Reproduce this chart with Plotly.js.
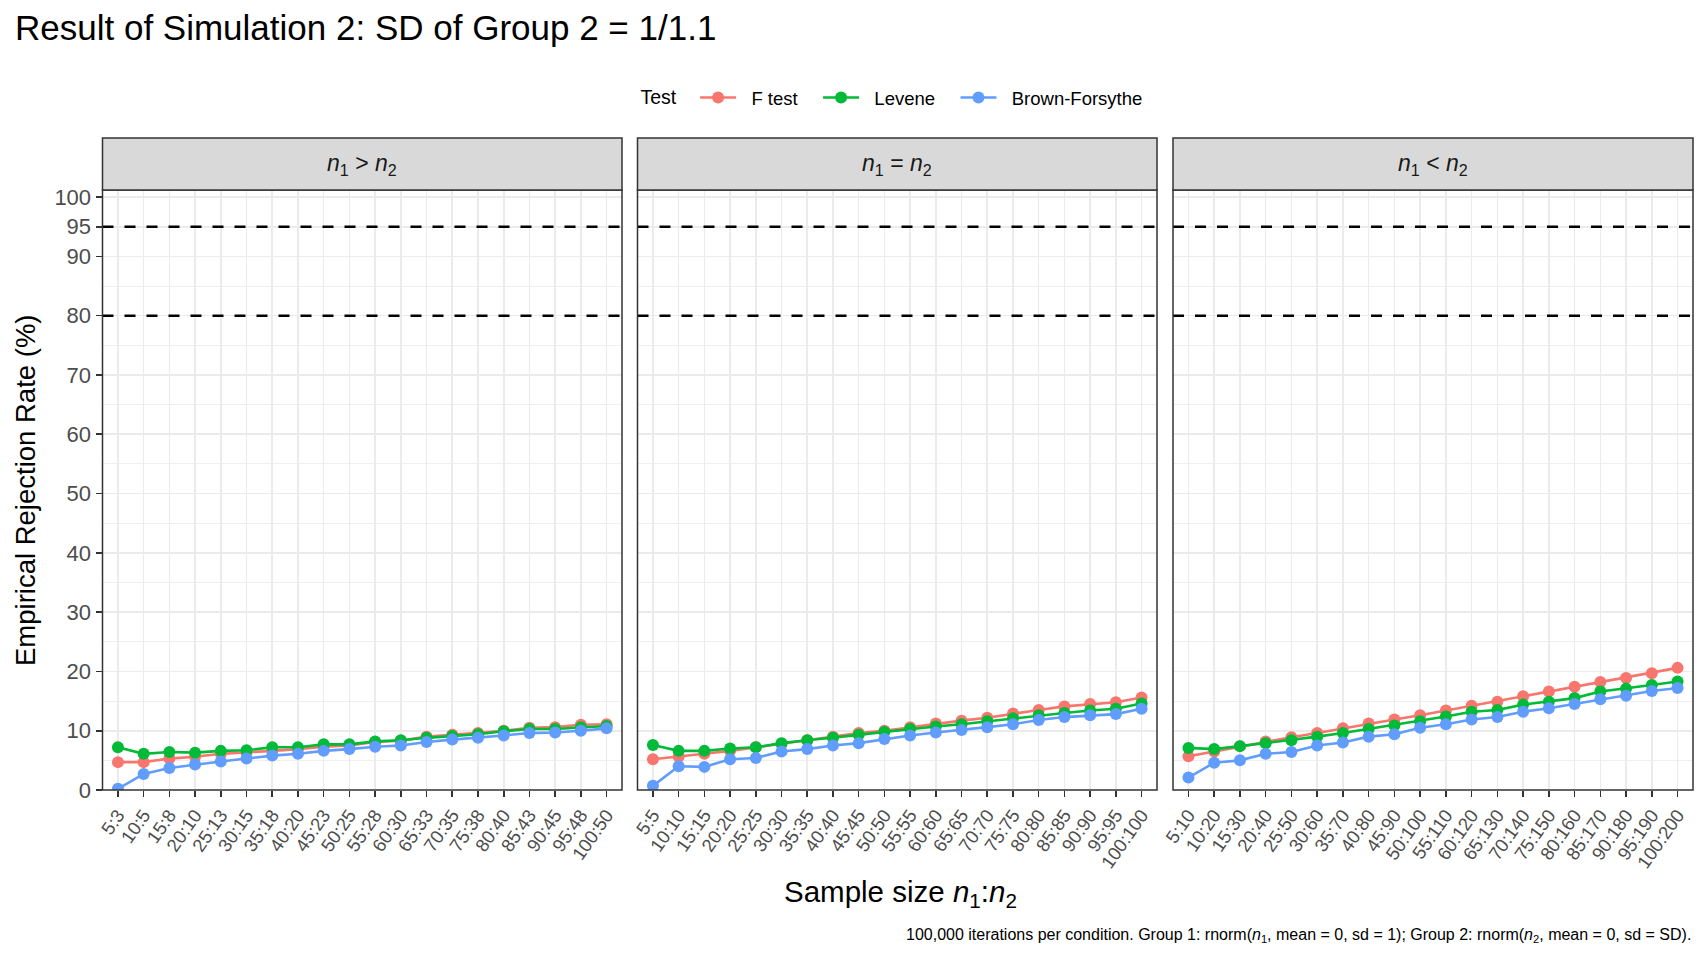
<!DOCTYPE html>
<html>
<head>
<meta charset="utf-8">
<script src="https://cdn.plot.ly/plotly-3.0.1.min.js"></script>
<style>html,body{margin:0;padding:0;background:#fff;}#chart{width:1708px;height:960px;}</style>
</head>
<body>
<div id="chart"></div>
<script>
// ---- Data ----
var panelLabels = ["<i>n</i><sub>1</sub> &gt; <i>n</i><sub>2</sub>", "<i>n</i><sub>1</sub> = <i>n</i><sub>2</sub>", "<i>n</i><sub>1</sub> &lt; <i>n</i><sub>2</sub>"];
var testNames = ["F test", "Levene", "Brown-Forsythe"];
var testColors = ["#F8766D", "#00BA38", "#619CFF"];

var catsGreater = ["5:3","10:5","15:8","20:10","25:13","30:15","35:18","40:20","45:23","50:25","55:28","60:30","65:33","70:35","75:38","80:40","85:43","90:45","95:48","100:50"];
var catsEqual = ["5:5","10:10","15:15","20:20","25:25","30:30","35:35","40:40","45:45","50:50","55:55","60:60","65:65","70:70","75:75","80:80","85:85","90:90","95:95","100:100"];
var catsLess = ["5:10","10:20","15:30","20:40","25:50","30:60","35:70","40:80","45:90","50:100","55:110","60:120","65:130","70:140","75:150","80:160","85:170","90:180","95:190","100:200"];

var greaterF  = [4.7, 4.7, 5.3, 5.6, 6.1, 6.3, 6.6, 6.9, 7.3, 7.5, 8.1, 8.3, 9.0, 9.3, 9.6, 10.0, 10.5, 10.6, 11.0, 11.1];
var greaterLev = [7.2, 6.1, 6.4, 6.3, 6.6, 6.7, 7.2, 7.2, 7.7, 7.7, 8.2, 8.4, 8.8, 9.1, 9.4, 9.9, 10.3, 10.3, 10.6, 10.8];
var greaterBF = [0.2, 2.7, 3.7, 4.3, 4.8, 5.3, 5.8, 6.1, 6.6, 6.9, 7.3, 7.5, 8.1, 8.5, 8.8, 9.2, 9.6, 9.7, 10.0, 10.4];

var equalF   = [5.2, 5.6, 6.1, 6.6, 7.2, 7.8, 8.4, 9.0, 9.6, 10.0, 10.6, 11.2, 11.7, 12.2, 12.9, 13.5, 14.1, 14.5, 14.8, 15.6];
var equalLev = [7.6, 6.6, 6.6, 7.0, 7.2, 7.9, 8.4, 8.8, 9.3, 9.8, 10.3, 10.7, 11.1, 11.6, 12.1, 12.6, 13.0, 13.4, 13.7, 14.6];
var equalBF  = [0.7, 4.0, 3.9, 5.2, 5.4, 6.5, 6.9, 7.5, 7.9, 8.6, 9.2, 9.7, 10.1, 10.6, 11.1, 11.8, 12.3, 12.6, 12.8, 13.7];

var lessF   = [5.7, 6.5, 7.4, 8.2, 8.9, 9.6, 10.4, 11.2, 11.9, 12.6, 13.4, 14.2, 14.9, 15.8, 16.6, 17.4, 18.2, 18.9, 19.7, 20.6];
var lessLev = [7.1, 6.9, 7.4, 7.9, 8.4, 9.0, 9.6, 10.3, 10.9, 11.6, 12.4, 13.2, 13.5, 14.4, 14.9, 15.5, 16.6, 17.1, 17.7, 18.3];
var lessBF  = [2.1, 4.6, 5.0, 6.1, 6.4, 7.5, 8.0, 9.0, 9.4, 10.5, 11.1, 11.9, 12.3, 13.2, 13.8, 14.5, 15.3, 15.9, 16.7, 17.2];

var yTickVals = [0, 10, 20, 30, 40, 50, 60, 70, 80, 90, 95, 100];
var yMinorVals = [5, 15, 25, 35, 45, 55, 65, 75, 85];
var refLines = [95, 80];

var captionText = "100,000 iterations per condition. Group 1: rnorm(<i>n</i><sub>1</sub>, mean = 0, sd = 1); Group 2: rnorm(<i>n</i><sub>2</sub>, mean = 0, sd = SD).";

// ---- Build ----
var FONT = "Liberation Sans, Arial, Helvetica, sans-serif";
var NB = "\u00A0";
var panels = [
  {cats: catsGreater, series: [greaterF, greaterLev, greaterBF]},
  {cats: catsEqual, series: [equalF, equalLev, equalBF]},
  {cats: catsLess, series: [lessF, lessLev, lessBF]}
];
var W = 1708, H = 960;
var xDomains = [[102.5/W, 622/W], [637.5/W, 1157/W], [1173/W, 1693/W]];
var yDom = [(H-790)/H, (H-190)/H];
var stripTop = (H-138)/H;

var traces = [];
panels.forEach(function(p, pi){
  var xa = pi === 0 ? "x" : "x" + (pi+1);
  p.series.forEach(function(vals, si){
    traces.push({
      type: "scatter", mode: "lines+markers",
      x: p.cats, y: vals, xaxis: xa, yaxis: "y",
      name: NB + NB + testNames[si] + NB + NB + NB, legendgroup: testNames[si], showlegend: pi === 0,
      line: {color: testColors[si], width: 2.6},
      marker: {color: testColors[si], size: 12},
      hoverinfo: "x+y"
    });
  });
});

var layout = {
  width: W, height: H,
  margin: {l: 0, r: 0, t: 0, b: 0},
  paper_bgcolor: "#ffffff", plot_bgcolor: "#ffffff",
  font: {family: FONT, color: "#000000"},
  showlegend: true,
  title: {text: "Result of Simulation 2: SD of Group 2 = 1/1.1", x: 15/W, xanchor: "left", xref: "paper",
          y: 1 - 28/H, yanchor: "middle", yref: "paper", font: {size: 35, color: "#000000", family: FONT}},
  legend: {orientation: "h", x: 901/W, xanchor: "center", y: 1 - 98/H, yanchor: "middle",
           title: {text: "Test" + NB + NB, font: {size: 19.5, color: "#000000"}, side: "left"},
           font: {size: 18.5, color: "#000000"}, itemwidth: 36, bgcolor: "rgba(0,0,0,0)"},
  shapes: [], annotations: []
};

layout.yaxis = {
  domain: yDom, anchor: "x", range: [0, 101.2], fixedrange: true,
  tickmode: "array", tickvals: yTickVals, ticktext: yTickVals.map(String),
  ticks: "outside", ticklen: 6, tickwidth: 1.6, tickcolor: "#333333",
  tickfont: {size: 22, color: "#4D4D4D"},
  showgrid: true, gridcolor: "#EBEBEB", gridwidth: 1.6, zeroline: false, showline: false,
  minor: {tickmode: "array", tickvals: yMinorVals, showgrid: true, gridcolor: "#EBEBEB", gridwidth: 0.8, ticks: ""}
};

panels.forEach(function(p, pi){
  var key = pi === 0 ? "xaxis" : "xaxis" + (pi+1);
  var ref = pi === 0 ? "x" : "x" + (pi+1);
  layout[key] = {
    domain: xDomains[pi], anchor: "y", type: "category",
    categoryorder: "array", categoryarray: p.cats, range: [-0.6, p.cats.length - 0.4],
    tickangle: -55, ticks: "outside", ticklen: 6, tickwidth: 1.6, tickcolor: "#333333",
    tickfont: {size: 18.5, color: "#4D4D4D"},
    showgrid: true, gridcolor: "#EBEBEB", gridwidth: 1.6, zeroline: false, showline: false, fixedrange: true
  };
  refLines.forEach(function(v){
    layout.shapes.push({type: "line", xref: ref + " domain", x0: 0, x1: 1, yref: "y", y0: v, y1: v,
      line: {color: "#000000", width: 2.4, dash: "11px,11px"}, layer: "above"});
  });
  // panel border
  layout.shapes.push({type: "rect", xref: ref + " domain", x0: 0, x1: 1, yref: "y domain", y0: 0, y1: 1,
    line: {color: "#333333", width: 1.5}, fillcolor: "rgba(0,0,0,0)", layer: "above"});
  // strip
  layout.shapes.push({type: "rect", xref: ref + " domain", x0: 0, x1: 1, yref: "paper", y0: yDom[1], y1: stripTop,
    line: {color: "#333333", width: 1.5}, fillcolor: "#D9D9D9", layer: "above"});
  layout.annotations.push({text: panelLabels[pi], xref: ref + " domain", x: 0.5, xanchor: "center",
    yref: "paper", y: (yDom[1] + stripTop)/2, yanchor: "middle", showarrow: false,
    font: {size: 23, color: "#1A1A1A", family: FONT}});
});

// axis titles and caption
layout.annotations.push({text: "Sample size <i>n</i><sub>1</sub>:<i>n</i><sub>2</sub>", xref: "paper", x: 900/W, xanchor: "center",
  yref: "paper", y: 1 - 893/H, yanchor: "middle", showarrow: false, font: {size: 29.5, color: "#000000", family: FONT}});
layout.annotations.push({text: "Empirical Rejection Rate (%)", xref: "paper", x: 26/W, xanchor: "center",
  yref: "paper", y: (yDom[0] + yDom[1])/2, yanchor: "middle", textangle: -90, showarrow: false,
  font: {size: 27.5, color: "#000000", family: FONT}});
layout.annotations.push({text: captionText, xref: "paper", x: 1693/W, xanchor: "right",
  yref: "paper", y: 1 - 935/H, yanchor: "middle", showarrow: false, font: {size: 16, color: "#000000", family: FONT}});

Plotly.newPlot("chart", traces, layout, {staticPlot: true, displayModeBar: false});
</script>
</body>
</html>
